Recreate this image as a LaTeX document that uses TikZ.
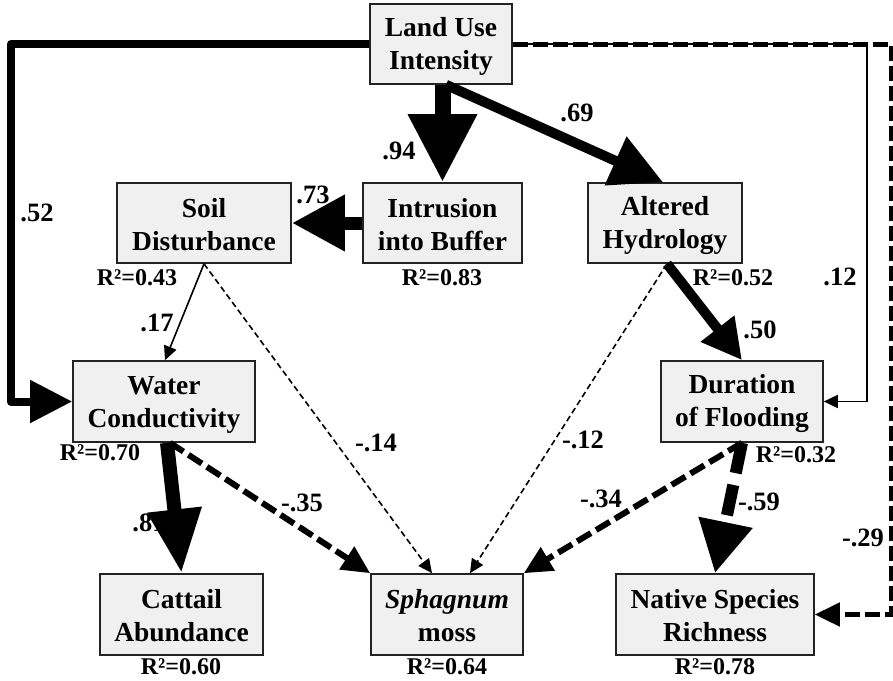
\documentclass[tikz,border=0pt]{standalone}
\usepackage{fontspec}
\setmainfont{Liberation Serif}
\usetikzlibrary{arrows.meta}
\definecolor{boxfill}{RGB}{240,240,240}
\definecolor{boxline}{RGB}{35,35,35}
% two centred lines with a fixed strut so every box sets its text alike
\newcommand{\linestrut}{\rule[-3pt]{0pt}{27pt}}
\newcommand{\twolines}[2]{\linestrut#1\\\linestrut#2}
\tikzset{
  var/.style={draw=boxline, line width=1.6pt, fill=boxfill, inner sep=0pt,
    align=center, font=\fontsize{27.5}{33}\selectfont\bfseries},
  coef/.style={inner sep=0pt, font=\fontsize{26.5}{28}\selectfont\bfseries},
  rsq/.style={inner sep=0pt, font=\fontsize{24}{26}\selectfont\bfseries},
  thinpath/.style={line width=1.6pt},
  thindash/.style={line width=1.6pt, dash pattern=on 6pt off 3.5pt},
  head/.style 2 args={-{Triangle[length=#1pt,width=#2pt]}},
}
\begin{document}
\begin{tikzpicture}[x=1pt, y=-1pt]
\useasboundingbox (0,0) rectangle (893,680);

% variables
\node[var, minimum width=142pt, minimum height=80pt] (lu)   at (441,44)    {\twolines{Land Use}{Intensity}};
\node[var, minimum width=174pt, minimum height=80pt] (soil) at (204,223)   {\twolines{Soil}{Disturbance}};
\node[var, minimum width=159pt, minimum height=80pt] (intr) at (442.5,223) {\twolines{Intrusion}{into Buffer}};
\node[var, minimum width=154pt, minimum height=80pt] (alt)  at (665,223)   {\twolines{Altered}{Hydrology}};
\node[var, minimum width=182pt, minimum height=81pt] (wat)  at (164,401.5) {\twolines{Water}{Conductivity}};
\node[var, minimum width=162pt, minimum height=81pt] (dur)  at (742,401.5) {\twolines{Duration}{of Flooding}};
\node[var, minimum width=163pt, minimum height=81pt] (cat)  at (181.5,614.5) {\twolines{Cattail}{Abundance}};
\node[var, minimum width=152pt, minimum height=81pt] (sph)  at (447,614.5) {\twolines{\textit{Sphagnum}}{moss}};
\node[var, minimum width=198pt, minimum height=81pt] (nat)  at (715,614.5) {\twolines{Native Species}{Richness}};

% explained variance
\node[rsq] (r1) at (137,278) {R²=0.43};
\node[rsq] (r2) at (442,278) {R²=0.83};
\node[rsq] (r3) at (733,278) {R²=0.52};
\node[rsq] (r4) at (100,453) {R²=0.70};
\node[rsq] (r5) at (796,455) {R²=0.32};
\node[rsq] (r6) at (181,667) {R²=0.60};
\node[rsq] (r7) at (447,667) {R²=0.64};
\node[rsq] (r8) at (715,667) {R²=0.78};

% path coefficients
\node[coef] (c94) at (399,151) {.94};
\node[coef] (c69) at (577,113) {.69};
\node[coef] (c73) at (313,195) {.73};
\node[coef] (c52) at (37,213)  {.52};
\node[coef] (c17) at (157,323) {.17};
\node[coef] (c14) at (376,443) {-.14};
\node[coef] (c12) at (583,440) {-.12};
\node[coef] (c50) at (760,330) {.50};
\node[coef] (c12b) at (840,277) {.12};
\node[coef] (c35) at (302,503) {-.35};
\node[coef] (c81) at (149,523) {.81};
\node[coef] (c34) at (601,499) {-.34};
\node[coef] (c59) at (759,502) {-.59};
\node[coef] (c29) at (863,538) {-.29};

% Land use -> duration of flooding (thin, runs under the dashed path)
\draw[thinpath, head={14}{13}] (lu.east) -- (867,44) -- (867,401.5) -- (dur.east);
% Land use -> native species richness
\draw[line width=5pt, dash pattern=on 15pt off 5pt, head={25}{23}]
  (lu.east) -- (891,44) -- (891,614.5) -- (nat.east);

% Land use -> water conductivity
\draw[line width=8pt, line join=round, head={42}{41}] (lu.west) -- (11,44) -- (11,401.5) -- (wat.west);
% Land use -> intrusion into buffer
\draw[line width=16pt, head={68}{65}] (lu.south -| intr.north) -- (intr.north);
% Land use -> altered hydrology
\draw[line width=10pt, head={52}{51}] ([xshift=5pt]lu.south) -- ([xshift=-2pt]alt.north);
% Intrusion -> soil disturbance
\draw[line width=13pt, head={53}{53}] (intr.west) -- (soil.east);
% Soil disturbance -> water conductivity / sphagnum
\draw[thinpath, head={14}{13}] (soil.south) -- ([xshift=1pt]wat.north);
\draw[thindash, head={14}{13}] (soil.south) -- ([xshift=-15pt]sph.north);
% Altered hydrology -> sphagnum / duration
\draw[thindash, head={14}{13}] ([xshift=2pt]alt.south) -- ([xshift=23pt]sph.north);
\draw[line width=10pt, head={40}{40}] ([xshift=2pt]alt.south) -- (dur.north);
% Water conductivity -> cattail / sphagnum
\draw[line width=14pt, head={64}{51}] ([xshift=3pt]wat.south) -- (cat.north);
\draw[line width=6pt, dash pattern=on 16pt off 6pt, head={28}{26}] ([xshift=6pt]wat.south) -- (sph.north west);
% Duration of flooding -> sphagnum / native species
\draw[line width=6pt, dash pattern=on 16pt off 6pt, head={28}{26}] (dur.south) -- (sph.north east);
\draw[line width=12pt, dash pattern=on 31pt off 12pt, head={52}{52}] (dur.south) -- (nat.north);
\end{tikzpicture}
\end{document}
